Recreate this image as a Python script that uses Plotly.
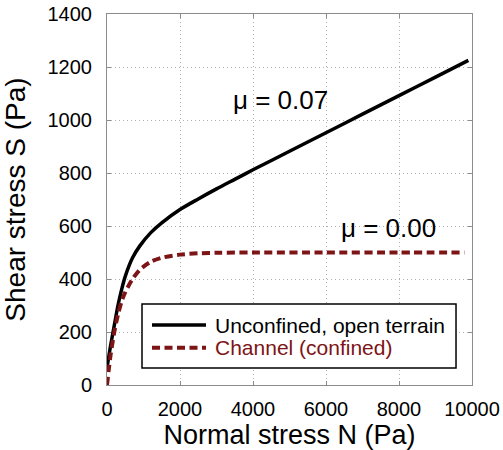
import plotly.graph_objects as go

# Normal stress N (Pa) and shear stress S (Pa)
n_open = [0, 100, 200, 300, 400, 500, 700, 900, 1200, 1500, 2000, 2500, 3000,
          3500, 4000, 5000, 6000, 7000, 8000, 9000, 9900]
s_open = [65, 150, 225, 300, 360, 410, 480, 525, 575, 612, 662, 702, 740,
          776, 812, 882, 952, 1022, 1092, 1162, 1225]

n_chan = [0, 50, 100, 200, 300, 400, 500, 700, 900, 1200, 1500, 2000, 2500,
          3000, 4000, 6000, 8000, 9800]
s_chan = [0, 60, 115, 200, 265, 315, 350, 400, 435, 465, 480, 492, 497,
          499, 500, 500, 500, 500]

series_names = ["Unconfined, open terrain", "Channel (confined)"]
mu_labels = ["\u03bc = 0.07", "\u03bc = 0.00"]
mu_pos_n = [4740, 7700]
mu_pos_s = [1075, 594]

x_ticks = [0, 2000, 4000, 6000, 8000, 10000]
y_ticks = [0, 200, 400, 600, 800, 1000, 1200, 1400]

RED = "#7d1416"
FONT = "Liberation Sans, Arial, sans-serif"

fig = go.Figure()
fig.add_trace(go.Scatter(
    x=n_open, y=s_open, mode="lines", name=series_names[0],
    line=dict(color="black", width=3.5, shape="spline", smoothing=0.8),
    showlegend=False,
))
fig.add_trace(go.Scatter(
    x=n_chan, y=s_chan, mode="lines", name=series_names[1],
    line=dict(color=RED, width=4, dash="8px,4.5px", shape="spline", smoothing=0.8),
    showlegend=False,
))

for txt, xn, ys in zip(mu_labels, mu_pos_n, mu_pos_s):
    fig.add_annotation(x=xn, y=ys, text=txt, showarrow=False,
                       xanchor="center", yanchor="middle",
                       font=dict(size=26, color="black", family=FONT))

# legend drawn as a framed box with line samples (paper coordinates)
leg_box = dict(x0=0.0959, x1=0.9562, y0=0.0458, y1=0.2183)
leg_rows_y = [0.1617, 0.1005]
leg_colors = ["black", RED]
leg_dash = ["solid", "8px,4.5px"]
leg_width = [3.5, 4]
fig.add_shape(type="rect", xref="paper", yref="paper", layer="above",
              fillcolor="white", line=dict(color="black", width=1.5), **leg_box)
for name, yy, col, dsh, wd in zip(series_names, leg_rows_y, leg_colors, leg_dash, leg_width):
    fig.add_shape(type="line", xref="paper", yref="paper", layer="above",
                  x0=0.1233, x1=0.2712, y0=yy, y1=yy,
                  line=dict(color=col, width=wd, dash=dsh))
    fig.add_annotation(xref="paper", yref="paper", x=0.2904, y=yy, text=name,
                       showarrow=False, xanchor="left", yanchor="middle",
                       font=dict(size=21, color=col, family=FONT))

axis_common = dict(
    showgrid=True, gridcolor="#b0b0b0", gridwidth=1, griddash="1px,3px",
    showline=True, linecolor="#8c8c8c", linewidth=1, mirror="ticks",
    ticks="inside", ticklen=4, tickcolor="#8c8c8c", tickwidth=1,
    zeroline=False, ticklabeloverflow="allow",
    tickfont=dict(size=20, color="black", family=FONT),
)

fig.update_xaxes(range=[0, 10000], tickvals=x_ticks,
                 ticktext=[str(v) for v in x_ticks], ticklabelstandoff=6,
                 title=dict(text="Normal stress N (Pa)",
                            font=dict(size=27, color="black", family=FONT),
                            standoff=0),
                 **axis_common)
fig.update_yaxes(range=[0, 1400], tickvals=y_ticks,
                 ticktext=[str(v) for v in y_ticks], ticklabelstandoff=10,
                 title=dict(text="Shear stress S (Pa)",
                            font=dict(size=28, color="black", family=FONT),
                            standoff=16),
                 **axis_common)

fig.update_layout(
    width=503, height=450,
    margin=dict(l=107, r=31, t=14, b=65, autoexpand=False),
    plot_bgcolor="white", paper_bgcolor="white",
    font=dict(family=FONT, color="black"),
    showlegend=False,
)

fig.write_html("out.html",
               config={"displayModeBar": False, "staticPlot": True},
               post_script="document.body.style.margin='0';"
                           "document.body.style.overflow='hidden';")
